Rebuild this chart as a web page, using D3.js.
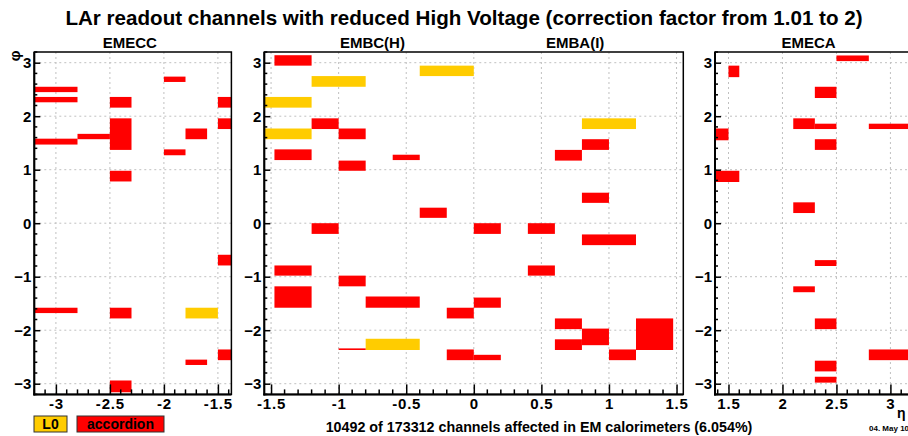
<!DOCTYPE html>
<html>
<head>
<meta charset="utf-8">
<script src="https://cdn.jsdelivr.net/npm/d3@7"></script>
<style>
  html, body { margin: 0; padding: 0; background: #fff; overflow: hidden; }
  svg { display: block; font-family: "Liberation Sans", Arial, sans-serif; font-weight: bold; }
</style>
</head>
<body>
<svg id="chart" width="908" height="436"></svg>
<script>
// ---------------- data ----------------
const titleText = "LAr readout channels with reduced High Voltage (correction factor from 1.01 to 2)";
const footerText = "10492 of 173312 channels affected in EM calorimeters (6.054%)";
const dateText = "04. May 10";
const legendItems = [{label: "L0", kind: "L0"}, {label: "accordion", kind: "acc"}];

// cells: [eta0, eta1, phi0, phi1, kind]
const emeccCells = [
  [-3.2, -2.8, 2.45, 2.55, "acc"],
  [-3.2, -2.8, 2.26, 2.36, "acc"],
  [-3.2, -2.8, 1.47, 1.58, "acc"],
  [-2.8, -2.5, 1.57, 1.67, "acc"],
  [-2.5, -2.3, 2.16, 2.36, "acc"],
  [-2.5, -2.3, 1.37, 1.96, "acc"],
  [-2.5, -2.3, 0.78, 0.98, "acc"],
  [-2.0, -1.8, 2.64, 2.74, "acc"],
  [-2.0, -1.8, 1.27, 1.38, "acc"],
  [-1.8, -1.6, 1.57, 1.77, "acc"],
  [-1.5, -1.375, 2.16, 2.36, "acc"],
  [-1.5, -1.375, 1.76, 1.96, "acc"],
  [-1.5, -1.375, -0.59, -0.79, "acc"],
  [-3.2, -2.8, -1.58, -1.68, "acc"],
  [-2.5, -2.3, -1.58, -1.78, "acc"],
  [-1.8, -1.5, -1.58, -1.78, "L0"],
  [-1.5, -1.375, -2.36, -2.56, "acc"],
  [-1.8, -1.6, -2.55, -2.65, "acc"],
  [-2.5, -2.3, -2.94, -3.16, "acc"]
];

const embCells = [
  [-1.475, -1.2, 2.945, 3.14, "acc"],
  [-1.2, -0.8, 2.55, 2.75, "L0"],
  [-1.55, -1.2, 2.16, 2.36, "L0"],
  [-1.2, -1.0, 1.76, 1.96, "acc"],
  [-1.55, -1.2, 1.57, 1.77, "L0"],
  [-1.0, -0.8, 1.57, 1.77, "acc"],
  [-1.475, -1.2, 1.18, 1.38, "acc"],
  [-1.0, -0.8, 0.98, 1.17, "acc"],
  [-0.6, -0.4, 1.18, 1.28, "acc"],
  [-0.4, 0.0, 2.75, 2.945, "L0"],
  [-0.4, -0.2, 0.1, 0.29, "acc"],
  [-1.2, -1.0, 0.0, -0.2, "acc"],
  [-1.475, -1.2, -0.79, -0.98, "acc"],
  [-1.475, -1.2, -1.18, -1.58, "acc"],
  [-1.0, -0.8, -0.98, -1.18, "acc"],
  [-0.8, -0.4, -1.37, -1.58, "acc"],
  [-0.2, 0.0, -1.58, -1.78, "acc"],
  [-0.8, -0.4, -2.16, -2.37, "L0"],
  [-1.0, -0.8, -2.34, -2.37, "acc"],
  [-0.2, 0.0, -2.36, -2.56, "acc"],
  [0.0, 0.2, 0.0, -0.2, "acc"],
  [0.4, 0.6, 0.0, -0.2, "acc"],
  [0.8, 1.2, 1.76, 1.96, "L0"],
  [0.8, 1.0, 1.37, 1.57, "acc"],
  [0.6, 0.8, 1.17, 1.37, "acc"],
  [0.8, 1.0, 0.38, 0.57, "acc"],
  [0.8, 1.2, -0.21, -0.41, "acc"],
  [0.4, 0.6, -0.79, -0.98, "acc"],
  [0.0, 0.2, -1.39, -1.58, "acc"],
  [0.6, 0.8, -1.78, -1.98, "acc"],
  [0.8, 1.0, -1.97, -2.28, "acc"],
  [0.6, 0.8, -2.17, -2.37, "acc"],
  [1.2, 1.475, -1.78, -2.37, "acc"],
  [1.0, 1.2, -2.36, -2.56, "acc"],
  [0.0, 0.2, -2.46, -2.56, "acc"]
];

const emecaCells = [
  [1.5, 1.6, 2.73, 2.945, "acc"],
  [2.5, 2.8, 3.03, 3.135, "acc"],
  [2.3, 2.5, 2.34, 2.55, "acc"],
  [2.1, 2.3, 1.76, 1.96, "acc"],
  [2.3, 2.5, 1.76, 1.86, "acc"],
  [2.8, 3.2, 1.76, 1.86, "acc"],
  [1.375, 1.5, 1.55, 1.77, "acc"],
  [2.3, 2.5, 1.37, 1.57, "acc"],
  [1.375, 1.6, 0.77, 0.98, "acc"],
  [2.1, 2.3, 0.19, 0.39, "acc"],
  [2.3, 2.5, -0.69, -0.8, "acc"],
  [2.1, 2.3, -1.18, -1.29, "acc"],
  [2.3, 2.5, -1.78, -1.98, "acc"],
  [2.8, 3.2, -2.36, -2.56, "acc"],
  [2.3, 2.5, -2.57, -2.77, "acc"],
  [2.3, 2.5, -2.87, -2.98, "acc"]
];

const xTicksEMECC = [-3, -2.5, -2, -1.5];
const xTicksEMB = [-1.5, -1, -0.5, 0, 0.5, 1, 1.5];
const xTicksEMECA = [1.5, 2, 2.5, 3];
const yTicks = [-3, -2, -1, 0, 1, 2, 3];

// ---------------- drawing ----------------
const colors = { acc: "#ff0000", L0: "#ffcc00" };
const svg = d3.select("#chart");
const plotTop = 52, plotBottom = 394.4;
const y = d3.scaleLinear().domain([-3.2, 3.2]).range([plotBottom, plotTop]);

const panels = [
  { name: "EMECC", cells: emeccCells, domain: [-3.2, -1.375], range: [34.3, 231.4], ticks: xTicksEMECC,
    subtitles: [{ text: "EMECC", at: null }] },
  { name: "EMB", cells: embCells, domain: [-1.55, 1.55], range: [264.3, 683.3], ticks: xTicksEMB,
    subtitles: [{ text: "EMBC(H)", at: -0.75 }, { text: "EMBA(I)", at: 0.75 }] },
  { name: "EMECA", cells: emecaCells, domain: [1.375, 3.2], range: [715, 912], ticks: xTicksEMECA,
    subtitles: [{ text: "EMECA", at: null }] }
];

function fmt(v) { return (Math.round(v * 10) / 10).toString(); }

panels.forEach(p => {
  const x = d3.scaleLinear().domain(p.domain).range(p.range);
  const g = svg.append("g");
  const x0 = p.range[0], x1 = p.range[1];

  // grid
  g.selectAll("line.gx").data(p.ticks).join("line")
    .attr("x1", d => x(d)).attr("x2", d => x(d)).attr("y1", plotTop).attr("y2", plotBottom)
    .attr("stroke", "#c0c0c0").attr("stroke-width", 1).attr("stroke-dasharray", "2,3");
  g.selectAll("line.gy").data(yTicks).join("line")
    .attr("x1", x0).attr("x2", x1).attr("y1", d => y(d)).attr("y2", d => y(d))
    .attr("stroke", "#c0c0c0").attr("stroke-width", 1).attr("stroke-dasharray", "2,3");

  // cells
  g.selectAll("rect.cell").data(p.cells).join("rect")
    .attr("x", d => x(Math.min(d[0], d[1])))
    .attr("width", d => Math.abs(x(d[1]) - x(d[0])))
    .attr("y", d => y(Math.max(d[2], d[3])))
    .attr("height", d => Math.abs(y(d[2]) - y(d[3])))
    .attr("fill", d => colors[d[4]]);

  // frame
  g.append("rect").attr("x", x0).attr("y", plotTop).attr("width", x1 - x0).attr("height", plotBottom - plotTop)
    .attr("fill", "none").attr("stroke", "#000").attr("stroke-width", 1.5);

  // x axis (ticks inward)
  const xAxis = d3.axisBottom(x).tickValues(p.ticks).tickFormat(fmt).tickSize(-10).tickPadding(0);
  const xa = g.append("g").attr("transform", `translate(0,${plotBottom})`).call(xAxis);
  xa.select(".domain").remove();
  xa.selectAll("line").attr("stroke", "#000").attr("stroke-width", 1.5);
  xa.selectAll("text").attr("font-size", 15).attr("font-weight", "bold").attr("fill", "#000")
    .attr("letter-spacing", 0.8)
    .attr("dy", null).attr("y", 15).attr("font-family", "Liberation Sans, Arial, sans-serif");
  const minorX = d3.range(Math.ceil(p.domain[0] * 10 - 1e-6), Math.floor(p.domain[1] * 10 + 1e-6) + 1)
    .map(v => v / 10).filter(v => !p.ticks.some(t => Math.abs(t - v) < 1e-6));
  g.selectAll("line.mx").data(minorX).join("line")
    .attr("x1", d => x(d)).attr("x2", d => x(d)).attr("y1", plotBottom).attr("y2", plotBottom - 5)
    .attr("stroke", "#000").attr("stroke-width", 1.5);

  // y axis
  const yAxis = d3.axisLeft(y).tickValues(yTicks).tickFormat(d3.format("d")).tickSize(-6).tickPadding(3);
  const ya = g.append("g").attr("transform", `translate(${x0},0)`).call(yAxis);
  ya.select(".domain").remove();
  ya.selectAll("line").attr("stroke", "#000").attr("stroke-width", 1.5);
  ya.selectAll("text").attr("font-size", 15).attr("font-weight", "bold").attr("fill", "#000")
    .attr("x", -3).attr("font-family", "Liberation Sans, Arial, sans-serif");
  const minorY = d3.range(-16, 17).map(v => v / 5).filter(v => Math.abs(v - Math.round(v)) > 1e-6);
  g.selectAll("line.my").data(minorY).join("line")
    .attr("x1", x0).attr("x2", x0 + 3).attr("y1", d => y(d)).attr("y2", d => y(d))
    .attr("stroke", "#000").attr("stroke-width", 1.5);

  // thick axis lines
  g.append("line").attr("x1", x0).attr("x2", x0).attr("y1", plotTop).attr("y2", plotBottom + 1)
    .attr("stroke", "#000").attr("stroke-width", 2);
  g.append("line").attr("x1", x0 - 1).attr("x2", x1).attr("y1", plotBottom).attr("y2", plotBottom)
    .attr("stroke", "#000").attr("stroke-width", 2);

  // subtitles
  p.subtitles.forEach(s => {
    const cx = s.at === null ? (x0 + Math.min(x1, 908)) / 2 - 3 : x(s.at);
    g.append("text").attr("x", cx).attr("y", 48).attr("text-anchor", "middle")
      .attr("font-size", 15).text(s.text);
  });
});

// title
svg.append("text").attr("x", 464).attr("y", 25).attr("text-anchor", "middle")
  .attr("font-size", 20.6).text(titleText);

// phi label
svg.append("text").attr("transform", "translate(20,56) rotate(-90)").attr("text-anchor", "middle")
  .attr("font-size", 15).text("φ");

// eta label
svg.append("text").attr("x", 897).attr("y", 418).attr("font-size", 14).text("η");

// legend
let lx = 34;
const legendW = { L0: 33, acc: 87 };
legendItems.forEach(it => {
  const w = legendW[it.kind];
  svg.append("rect").attr("x", lx).attr("y", 416).attr("width", w).attr("height", 16)
    .attr("fill", colors[it.kind]).attr("stroke", "#333").attr("stroke-width", 1);
  svg.append("text").attr("x", lx + w / 2).attr("y", 429).attr("text-anchor", "middle")
    .attr("font-size", 14).text(it.label);
  lx += w + 10;
});

// footer
svg.append("text").attr("x", 539).attr("y", 432).attr("text-anchor", "middle")
  .attr("font-size", 14.3).text(footerText);
svg.append("text").attr("x", 869).attr("y", 431).attr("font-size", 8).text(dateText);
</script>
</body>
</html>
